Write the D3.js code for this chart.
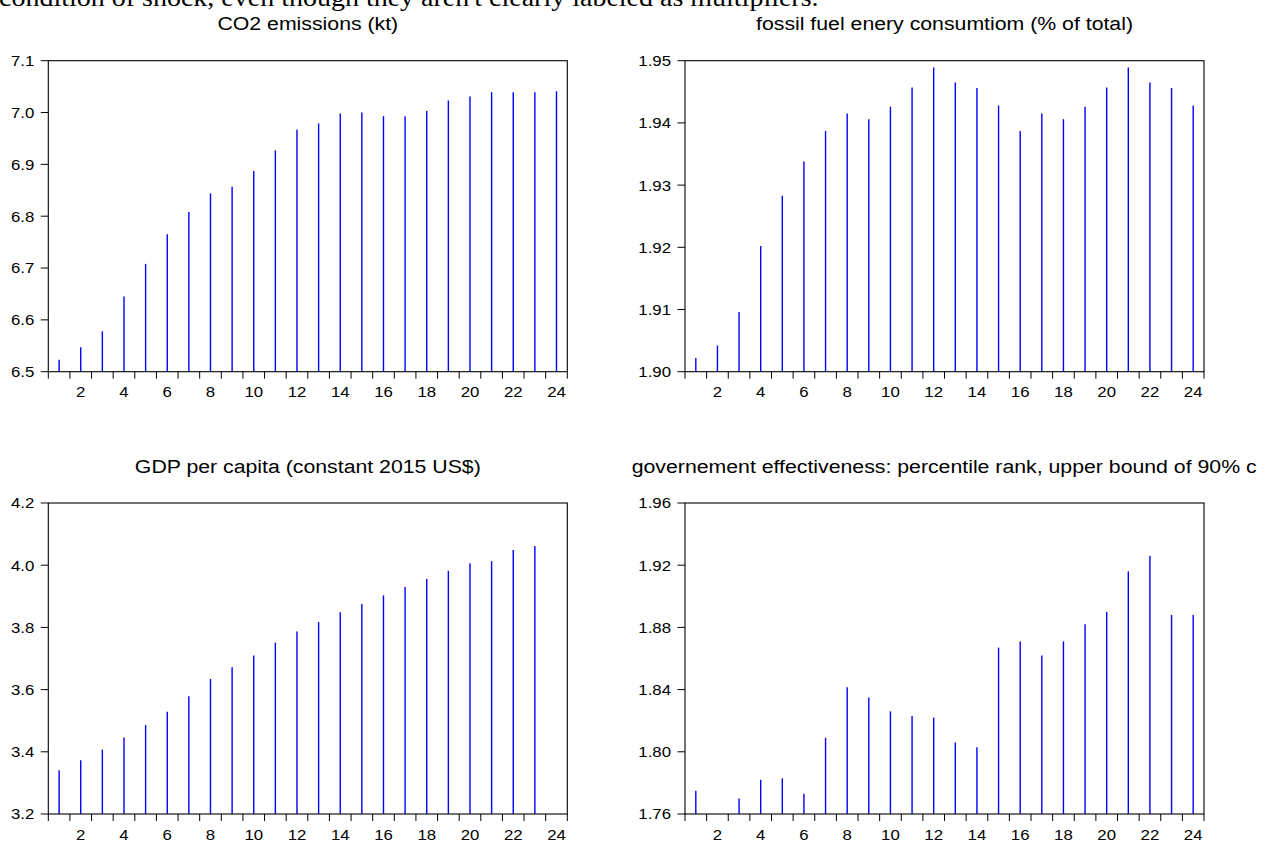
<!DOCTYPE html>
<html><head><meta charset="utf-8">
<script src="https://cdn.jsdelivr.net/npm/d3@7/dist/d3.min.js"></script>
<style>html,body{margin:0;padding:0;background:#fff;overflow:hidden}</style>
</head><body>
<svg id="c" width="1272" height="843"></svg>
<script>
// ---- data ----
const periods = [1,2,3,4,5,6,7,8,9,10,11,12,13,14,15,16,17,18,19,20,21,22,23,24];
const xTickLabels = [2,4,6,8,10,12,14,16,18,20,22,24];

const co2 = [6.523,6.547,6.578,6.645,6.708,6.765,6.808,6.844,6.857,6.887,6.927,6.967,
             6.979,6.998,7.000,6.993,6.993,7.003,7.023,7.031,7.039,7.039,7.039,7.041];
const fossil = [1.9022,1.9042,1.9096,1.9202,1.9283,1.9338,1.9387,1.9415,1.9406,1.9426,1.9457,1.9489,
                1.9465,1.9456,1.9428,1.9387,1.9415,1.9406,1.9426,1.9457,1.9489,1.9465,1.9456,1.9428];
const gdp = [3.341,3.373,3.407,3.446,3.486,3.529,3.579,3.634,3.672,3.710,3.751,3.787,
             3.817,3.849,3.875,3.903,3.930,3.956,3.982,4.006,4.013,4.049,4.062,null];
const gov = [1.775,null,1.770,1.782,1.783,1.773,1.809,1.8415,1.835,1.826,1.823,1.822,
             1.806,1.803,1.867,1.871,1.862,1.871,1.882,1.890,1.916,1.926,1.888,1.888];

const co2Ticks = [6.5,6.6,6.7,6.8,6.9,7.0,7.1];
const fossilTicks = [1.90,1.91,1.92,1.93,1.94,1.95];
const gdpTicks = [3.2,3.4,3.6,3.8,4.0,4.2];
const govTicks = [1.76,1.80,1.84,1.88,1.92,1.96];

const titles = ["CO2 emissions (kt)",
                "fossil fuel enery consumtiom (% of total)",
                "GDP per capita (constant 2015 US$)",
                "governement effectiveness: percentile rank, upper bound of 90% c"];
const headerText = "condition of shock, even though they aren't clearly labeled as multipliers.";

// ---- layout ----
const SX = 1.12;               // horizontal text stretch seen in the reference
const W = 519, H = 311;
const panels = [
  {title: titles[0], values: co2,    ticks: co2Ticks,    fmt: d3.format(".1f"), x0: 48.3, y0: 60.7},
  {title: titles[1], values: fossil, ticks: fossilTicks, fmt: d3.format(".2f"), x0: 685,  y0: 60.7},
  {title: titles[2], values: gdp,    ticks: gdpTicks,    fmt: d3.format(".1f"), x0: 48.3, y0: 503},
  {title: titles[3], values: gov,    ticks: govTicks,    fmt: d3.format(".2f"), x0: 685,  y0: 503, leftTitle: 631.7}
];

const svg = d3.select("#c");
svg.append("rect").attr("width",1272).attr("height",843).attr("fill","#fff");

function txt(g, x, y, s, size, anchor, family) {
  return g.append("text")
    .attr("transform", `translate(${x},${y}) scale(${SX},1)`)
    .attr("text-anchor", anchor)
    .attr("font-family", family || "'Liberation Sans', Arial, sans-serif")
    .attr("font-size", size)
    .attr("fill", "#000")
    .text(s);
}

// header line (cut off by top edge, as in the reference)
txt(svg, -1, 5.5, headerText, 25, "start", "'Liberation Serif', 'Times New Roman', serif");

panels.forEach(p => {
  const g = svg.append("g");
  const x = d3.scaleLinear().domain([0.5, 24.5]).range([p.x0, p.x0 + W]);
  const y = d3.scaleLinear().domain([p.ticks[0], p.ticks[p.ticks.length-1]]).range([p.y0 + H, p.y0]);

  // spikes
  const pts = periods.map((t,i) => ({t, v: p.values[i]})).filter(d => d.v !== null);
  g.selectAll("line.spike").data(pts).enter().append("line")
    .attr("class","spike")
    .attr("x1", d => x(d.t)).attr("x2", d => x(d.t))
    .attr("y1", y.range()[0])
    .attr("y2", d => y(Math.max(y.domain()[0], Math.min(y.domain()[1], d.v))))
    .attr("stroke", "#0000ff").attr("stroke-width", 1.4);

  // frame
  g.append("rect").attr("x", p.x0).attr("y", p.y0).attr("width", W).attr("height", H)
    .attr("fill","none").attr("stroke","#000").attr("stroke-width",1.1);

  // y ticks and labels
  g.selectAll("line.yt").data(p.ticks).enter().append("line")
    .attr("x1", p.x0 - 7.5).attr("x2", p.x0)
    .attr("y1", d => y(d)).attr("y2", d => y(d))
    .attr("stroke","#000").attr("stroke-width",1);
  p.ticks.forEach(t => txt(g, p.x0 - 14, y(t) + 5.4, p.fmt(t), 15, "end"));

  // x ticks at period boundaries
  const bounds = d3.range(0, 25).map(i => i + 0.5);
  g.selectAll("line.xt").data(bounds).enter().append("line")
    .attr("x1", d => x(d)).attr("x2", d => x(d))
    .attr("y1", p.y0 + H).attr("y2", p.y0 + H + 7)
    .attr("stroke","#000").attr("stroke-width",1);
  xTickLabels.forEach(t => txt(g, x(t), p.y0 + H + 25.5, String(t), 15, "middle"));

  // title
  if (p.leftTitle !== undefined) {
    txt(g, p.leftTitle, p.y0 - 30.5, p.title, 19, "start");
  } else {
    txt(g, p.x0 + W/2, p.y0 - 30.5, p.title, 19, "middle");
  }
});
</script>
</body></html>
